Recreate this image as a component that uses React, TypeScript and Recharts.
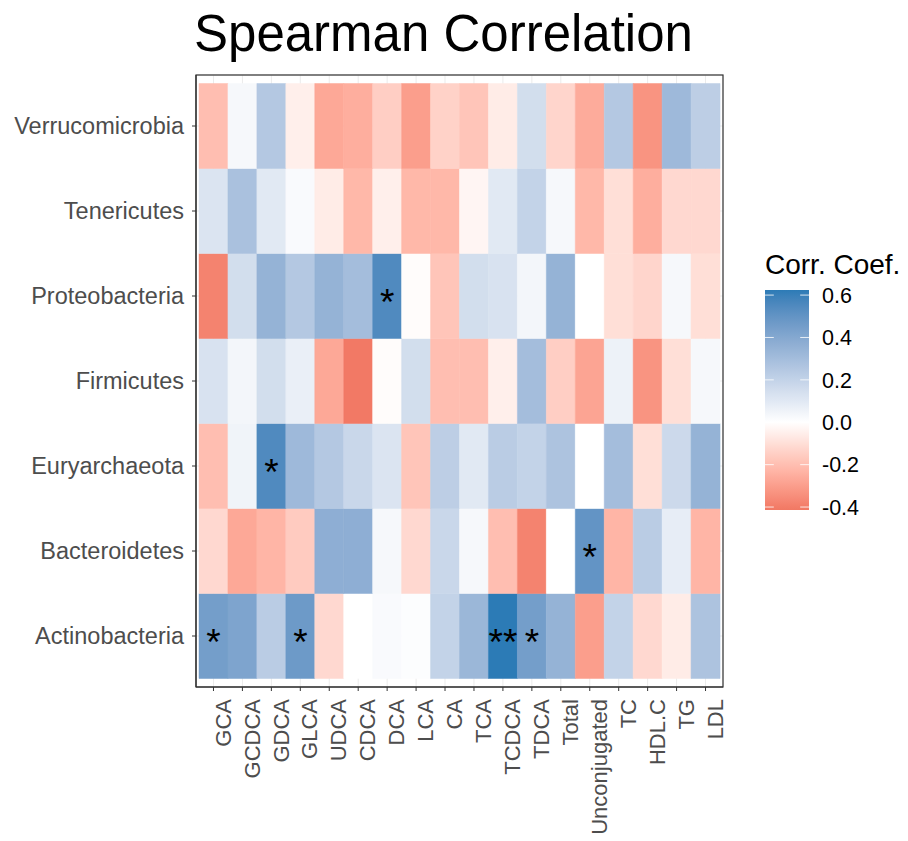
import React from 'react';
import { BarChart, Bar, Cell, XAxis, YAxis, CartesianGrid, LabelList, usePlotArea } from 'recharts';

const FONT = '"Liberation Sans", Arial, Helvetica, sans-serif';

const columns = ['GCA', 'GCDCA', 'GDCA', 'GLCA', 'UDCA', 'CDCA', 'DCA', 'LCA', 'CA', 'TCA',
  'TCDCA', 'TDCA', 'Total', 'Unconjugated', 'TC', 'HDL.C', 'TG', 'LDL'];

// rows as shown, top to bottom
const rows = ['Verrucomicrobia', 'Tenericutes', 'Proteobacteria', 'Firmicutes',
  'Euryarchaeota', 'Bacteroidetes', 'Actinobacteria'];

const verrucomicrobia = [-0.2, 0.03, 0.25, -0.05, -0.27, -0.25, -0.15, -0.3, -0.14, -0.18, -0.06, 0.15, -0.13, -0.26, 0.25, -0.33, 0.32, 0.22];
const tenericutes = [0.12, 0.28, 0.1, 0.02, -0.06, -0.22, -0.05, -0.22, -0.22, -0.03, 0.1, 0.2, 0.03, -0.22, -0.1, -0.25, -0.12, -0.12];
const proteobacteria = [-0.38, 0.15, 0.35, 0.25, 0.35, 0.3, 0.55, -0.01, -0.18, 0.15, 0.13, 0.04, 0.35, 0, -0.1, -0.13, 0.03, -0.1];
const firmicutes = [0.13, 0.04, 0.15, 0.07, -0.27, -0.41, -0.01, 0.15, -0.2, -0.2, -0.05, 0.3, -0.15, -0.28, 0.06, -0.33, -0.1, 0.03];
const euryarchaeota = [-0.2, 0.05, 0.55, 0.32, 0.25, 0.18, 0.12, -0.18, 0.22, 0.1, 0.23, 0.2, 0.27, 0, 0.3, -0.1, 0.17, 0.35];
const bacteroidetes = [-0.12, -0.27, -0.23, -0.16, 0.37, 0.37, 0.03, -0.12, 0.18, 0.03, -0.2, -0.38, 0, 0.5, -0.23, 0.23, 0.08, -0.23];
const actinobacteria = [0.45, 0.42, 0.23, 0.47, -0.12, 0, 0.02, 0.01, 0.2, 0.33, 0.624, 0.45, 0.35, -0.3, 0.2, -0.12, -0.06, 0.27];

const rowValues: Record<string, number[]> = {
  Verrucomicrobia: verrucomicrobia,
  Tenericutes: tenericutes,
  Proteobacteria: proteobacteria,
  Firmicutes: firmicutes,
  Euryarchaeota: euryarchaeota,
  Bacteroidetes: bacteroidetes,
  Actinobacteria: actinobacteria,
};

const stars = [
  { row: 'Proteobacteria', col: 'DCA', mark: '*' },
  { row: 'Euryarchaeota', col: 'GDCA', mark: '*' },
  { row: 'Bacteroidetes', col: 'Unconjugated', mark: '*' },
  { row: 'Actinobacteria', col: 'GCA', mark: '*' },
  { row: 'Actinobacteria', col: 'GLCA', mark: '*' },
  { row: 'Actinobacteria', col: 'TCDCA', mark: '**' },
  { row: 'Actinobacteria', col: 'TDCA', mark: '*' },
];

const legendTicks = [0.6, 0.4, 0.2, 0.0, -0.2, -0.4];

const LOW = '#D7191C';
const HIGH = '#2C7BB6';

// --- Lab colour interpolation (like ggplot's gradient2) ---
function hexToLab(hex: string) {
  const c = [1, 3, 5].map((i) => parseInt(hex.slice(i, i + 2), 16) / 255)
    .map((v) => (v <= 0.04045 ? v / 12.92 : Math.pow((v + 0.055) / 1.055, 2.4)));
  const X = (c[0] * 0.4124 + c[1] * 0.3576 + c[2] * 0.1805) / 0.95047;
  const Y = c[0] * 0.2126 + c[1] * 0.7152 + c[2] * 0.0722;
  const Z = (c[0] * 0.0193 + c[1] * 0.1192 + c[2] * 0.9505) / 1.08883;
  const f = (t: number) => (t > 0.008856 ? Math.cbrt(t) : 7.787 * t + 16 / 116);
  return [116 * f(Y) - 16, 500 * (f(X) - f(Y)), 200 * (f(Y) - f(Z))];
}

function labToHex(L: number, a: number, b: number) {
  const fy = (L + 16) / 116;
  const fx = fy + a / 500;
  const fz = fy - b / 200;
  const inv = (t: number) => (t * t * t > 0.008856 ? t * t * t : (t - 16 / 116) / 7.787);
  const X = inv(fx) * 0.95047;
  const Y = inv(fy);
  const Z = inv(fz) * 1.08883;
  const lin = [
    X * 3.2406 - Y * 1.5372 - Z * 0.4986,
    -X * 0.9689 + Y * 1.8758 + Z * 0.0415,
    X * 0.0557 - Y * 0.204 + Z * 1.057,
  ];
  return '#' + lin.map((v) => {
    const s = v <= 0.0031308 ? 12.92 * v : 1.055 * Math.pow(v, 1 / 2.4) - 0.055;
    const n = Math.round(Math.min(1, Math.max(0, s)) * 255);
    return n.toString(16).padStart(2, '0');
  }).join('');
}

const labLow = hexToLab(LOW);
const labHigh = hexToLab(HIGH);
const labMid = hexToLab('#FFFFFF');

const allValues = rows.flatMap((r) => rowValues[r]);
const vMin = -0.414;
const vMax = Math.max(...allValues);
const maxAbs = Math.max(Math.abs(vMin), Math.abs(vMax));

function colorFor(v: number) {
  const t = Math.min(1, Math.abs(v) / maxAbs);
  const end = v < 0 ? labLow : labHigh;
  return labToHex(
    labMid[0] + (end[0] - labMid[0]) * t,
    labMid[1] + (end[1] - labMid[1]) * t,
    labMid[2] + (end[2] - labMid[2]) * t,
  );
}

const rowsBottomUp = [...rows].reverse();

const tableData = columns.map((col) => {
  const d: Record<string, string | number> = { col };
  rows.forEach((r) => {
    d[`t_${r}`] = 1;
    const s = stars.find((x) => x.row === r && x.col === col);
    d[`s_${r}`] = s ? s.mark : '';
  });
  return d;
});

const XTick = (props: any) => {
  const { x, y, payload } = props;
  return (
    <text x={x} y={y} transform={`rotate(-90, ${x}, ${y})`} textAnchor="end" dy="0.78em"
      fontSize={22} fill="#4D4D4D" fontFamily={FONT}>
      {payload.value}
    </text>
  );
};

const StarLabel = (props: any) => {
  const { x, y, width, height, value } = props;
  if (!value) return null;
  return (
    <text x={x + width / 2} y={y + height / 2 + 19} textAnchor="middle" fontSize={37}
      fill="#000" fontFamily={FONT}>
      {value}
    </text>
  );
};

// theme_bw style panel border around the plot area
const PanelBorder = () => {
  const area = usePlotArea ? usePlotArea() : undefined;
  if (!area) return null;
  return (
    <rect x={area.x} y={area.y} width={area.width} height={area.height}
      fill="none" stroke="#333333" strokeWidth={1.2} />
  );
};

// legend geometry
const LG = { x: 765, y: 290, w: 44, h: 220 };
const legendY = (v: number) => LG.y + ((vMax - v) / (vMax - vMin)) * LG.h;

export default function App() {
  return (
    <div style={{ position: 'relative', width: 908, height: 841, margin: -8, fontFamily: FONT }}>
      <BarChart
        width={908}
        height={841}
        data={tableData}
        margin={{ top: 75, right: 185, left: 0, bottom: 0 }}
        barCategoryGap={0}
        barGap={0}
      >
        <CartesianGrid stroke="#EBEBEB" />
        <XAxis
          dataKey="col"
          type="category"
          interval={0}
          height={154}
          padding={{ left: 3, right: 3 }}
          axisLine={{ stroke: '#333333', strokeWidth: 1.2 }}
          tickLine={{ stroke: '#333333' }}
          tickSize={4}
          tickMargin={8}
          tick={<XTick />}
        />
        <YAxis
          type="number"
          domain={[-0.1, 7.1]}
          ticks={rowsBottomUp.map((_, i) => i + 0.5)}
          tickFormatter={(v: number) => rowsBottomUp[Math.floor(v)]}
          width={196}
          interval={0}
          axisLine={{ stroke: '#333333', strokeWidth: 1.2 }}
          tickLine={{ stroke: '#333333' }}
          tickSize={4}
          tickMargin={8}
          tick={{ fontSize: 23.5, fill: '#4D4D4D', fontFamily: FONT }}
        />
        {rowsBottomUp.map((r) => (
          <Bar key={r} dataKey={`t_${r}`} stackId="tiles" isAnimationActive={false}>
            {rowValues[r].map((v, i) => (
              <Cell key={i} fill={colorFor(v)} stroke={colorFor(v)} strokeWidth={0.5} />
            ))}
            <LabelList dataKey={`s_${r}`} content={<StarLabel />} />
          </Bar>
        ))}
        <PanelBorder />
      </BarChart>
      <svg width={908} height={841} style={{ position: 'absolute', left: 0, top: 0, pointerEvents: 'none' }}>
        <text x={194} y={51} fontSize={51} fill="#000" fontFamily={FONT}>Spearman Correlation</text>
        <text x={765} y={274} fontSize={28} fill="#000" fontFamily={FONT}>Corr. Coef.</text>
        <defs>
          <linearGradient id="corrGrad" x1="0" y1="0" x2="0" y2="1">
            {Array.from({ length: 41 }, (_, i) => {
              const v = vMax - (i / 40) * (vMax - vMin);
              return <stop key={i} offset={`${(i / 40) * 100}%`} stopColor={colorFor(v)} />;
            })}
          </linearGradient>
        </defs>
        <rect x={LG.x} y={LG.y} width={LG.w} height={LG.h} fill="url(#corrGrad)" />
        {legendTicks.map((t) => (
          <g key={t}>
            <line x1={LG.x} x2={LG.x + LG.w / 5} y1={legendY(t)} y2={legendY(t)} stroke="#FFFFFF" strokeOpacity={0.8} />
            <line x1={LG.x + LG.w * 4 / 5} x2={LG.x + LG.w} y1={legendY(t)} y2={legendY(t)} stroke="#FFFFFF" strokeOpacity={0.8} />
            <text x={LG.x + LG.w + 13} y={legendY(t)} dy="0.36em" fontSize={21.5} fill="#000" fontFamily={FONT}>
              {t.toFixed(1)}
            </text>
          </g>
        ))}
      </svg>
    </div>
  );
}
